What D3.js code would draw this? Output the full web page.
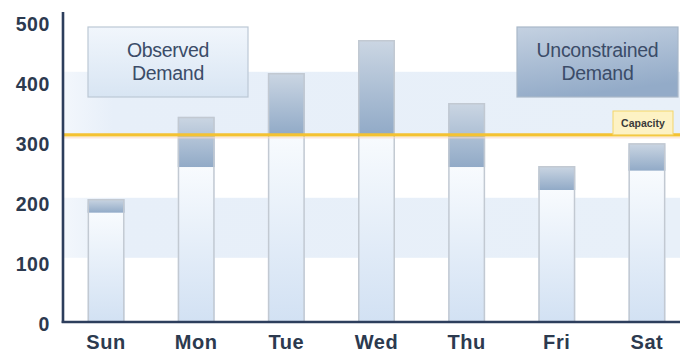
<!DOCTYPE html>
<html>
<head>
<meta charset="utf-8">
<script src="https://cdn.jsdelivr.net/npm/d3@7"></script>
<style>
  html, body { margin: 0; padding: 0; background: #fff; }
  svg { display: block; }
</style>
</head>
<body>
<svg id="chart" width="680" height="356"></svg>
<script>
// Daily demand against capacity
const days = ["Sun", "Mon", "Tue", "Wed", "Thu", "Fri", "Sat"];
const observed = [182, 258, 312, 312, 258, 220, 252];
const unconstrained = [205, 342, 415, 470, 365, 260, 298];
const capacity = 312;
const yTicks = [0, 100, 200, 300, 400, 500];
const bandRanges = [[107, 207], [313, 417]];
const legendLabels = [["Observed", "Demand"], ["Unconstrained", "Demand"]];
const capacityLabel = "Capacity";

const svg = d3.select("#chart");
const W = 680;
const axisX = 63;

const y = d3.scaleLinear().domain([0, 500]).range([322, 22]);
const x = d3.scaleBand().domain(days).range([61, 692])
  .paddingInner(0.59).paddingOuter(0.295);

const defs = svg.append("defs");
function vGrad(id, stops) {
  const g = defs.append("linearGradient").attr("id", id)
    .attr("x1", 0).attr("y1", 0).attr("x2", 0).attr("y2", 1);
  stops.forEach(([o, c]) => g.append("stop").attr("offset", o).attr("stop-color", c));
}
vGrad("obsFill", [[0, "#f8fbfe"], [1, "#d2e1f3"]]);
vGrad("uncFill", [[0, "#cbd6e3"], [1, "#91aac7"]]);
vGrad("obsLegend", [[0, "#f1f6fc"], [1, "#d8e5f3"]]);
const ul = defs.append("linearGradient").attr("id", "uncLegend")
  .attr("x1", 0).attr("y1", 0).attr("x2", 0.3).attr("y2", 1);
ul.append("stop").attr("offset", 0).attr("stop-color", "#c4d1e1");
ul.append("stop").attr("offset", 1).attr("stop-color", "#93abc8");
const bg = defs.append("linearGradient").attr("id", "bandFill")
  .attr("x1", 0).attr("y1", 0).attr("x2", 1).attr("y2", 0);
bg.append("stop").attr("offset", 0).attr("stop-color", "#f3f7fc");
bg.append("stop").attr("offset", 0.08).attr("stop-color", "#e7eff9");
bg.append("stop").attr("offset", 1).attr("stop-color", "#e8f0f9");

// background bands
svg.append("g").selectAll("rect").data(bandRanges).join("rect")
  .attr("x", axisX).attr("width", W - axisX)
  .attr("y", d => y(d[1])).attr("height", d => y(d[0]) - y(d[1]))
  .attr("fill", "url(#bandFill)");

// legend boxes
const legendBoxes = [
  { x: 88, w: 160, fill: "url(#obsLegend)", stroke: "#bcc8d5" },
  { x: 517, w: 161, fill: "url(#uncLegend)", stroke: "#a9b8c9" }
];
legendBoxes.forEach((b, i) => {
  svg.append("rect").attr("x", b.x).attr("y", 27).attr("width", b.w).attr("height", 70)
    .attr("fill", b.fill).attr("stroke", b.stroke).attr("stroke-width", 1.2);
  const t = svg.append("text").attr("text-anchor", "middle")
    .attr("font-family", "Liberation Sans, Arial, sans-serif")
    .attr("font-size", 19.5).attr("fill", "#3b4c68").attr("letter-spacing", -0.3);
  legendLabels[i].forEach((s, j) => {
    t.append("tspan").attr("x", b.x + b.w / 2).attr("y", 57 + j * 23).text(s);
  });
});

// bars: unconstrained segment above observed segment
const bars = svg.append("g");
days.forEach((d, i) => {
  const bx = x(d), bw = x.bandwidth();
  bars.append("rect")
    .attr("x", bx).attr("width", bw)
    .attr("y", y(unconstrained[i])).attr("height", y(observed[i]) - y(unconstrained[i]))
    .attr("fill", "url(#uncFill)");
  bars.append("rect")
    .attr("x", bx).attr("width", bw)
    .attr("y", y(observed[i])).attr("height", y(0) - y(observed[i]))
    .attr("fill", "url(#obsFill)");
  bars.append("rect")
    .attr("x", bx + 0.75).attr("width", bw - 1.5)
    .attr("y", y(unconstrained[i]) + 0.75).attr("height", y(0) - y(unconstrained[i]) - 0.75)
    .attr("fill", "none").attr("stroke", "#c2c9d2").attr("stroke-width", 1.5);
});

// capacity line with soft glow
svg.append("line").attr("x1", axisX).attr("x2", W)
  .attr("y1", y(capacity) + 3).attr("y2", y(capacity) + 3)
  .attr("stroke", "#f9d9c8").attr("stroke-width", 1.5).attr("opacity", 0.6);
svg.append("line").attr("x1", axisX).attr("x2", W)
  .attr("y1", y(capacity)).attr("y2", y(capacity))
  .attr("stroke", "#f4c232").attr("stroke-width", 3.2);

// capacity label
svg.append("rect").attr("x", 613).attr("y", 111).attr("width", 60).attr("height", y(capacity) - 111)
  .attr("fill", "#fdf2c4").attr("stroke", "#f3d56a").attr("stroke-width", 1);
svg.append("text").attr("x", 643).attr("y", 127).attr("text-anchor", "middle")
  .attr("font-family", "Liberation Sans, Arial, sans-serif").attr("font-weight", "bold")
  .attr("font-size", 10.5).attr("fill", "#3a3a3a").text(capacityLabel);

// y axis
const yAxis = svg.append("g").attr("transform", `translate(${axisX},0)`)
  .call(d3.axisLeft(y).tickValues(yTicks).tickSize(0).tickPadding(13));
yAxis.select(".domain").remove();
yAxis.selectAll("text")
  .attr("font-family", "Liberation Sans, Arial, sans-serif").attr("font-weight", "bold")
  .attr("font-size", 19.5).attr("fill", "#2c3a4f").attr("letter-spacing", 0.6)
  .attr("dy", "0.42em");
svg.append("line").attr("x1", axisX).attr("x2", axisX)
  .attr("y1", y(0) + 1).attr("y2", y(500) - 10)
  .attr("stroke", "#2d3e5c").attr("stroke-width", 2.6);

// x axis
const xAxis = svg.append("g").attr("transform", `translate(0,${y(0)})`)
  .call(d3.axisBottom(x).tickSize(0).tickPadding(13));
xAxis.select(".domain").remove();
xAxis.selectAll("text")
  .attr("font-family", "Liberation Sans, Arial, sans-serif").attr("font-weight", "bold")
  .attr("font-size", 20).attr("fill", "#2c3a4f").attr("letter-spacing", 0.6);
svg.append("line").attr("x1", axisX - 1.3).attr("x2", W)
  .attr("y1", y(0)).attr("y2", y(0))
  .attr("stroke", "#2d3e5c").attr("stroke-width", 2.6);
</script>
</body>
</html>
